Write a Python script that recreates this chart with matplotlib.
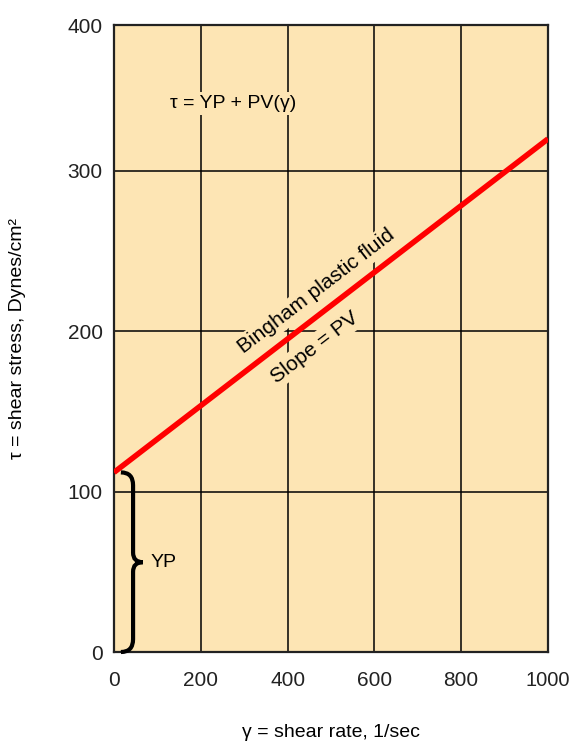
import numpy as np
import matplotlib
matplotlib.use("Agg")
import matplotlib.pyplot as plt
from matplotlib.path import Path
from matplotlib.patches import PathPatch

plt.rcParams['font.family'] = ['Liberation Sans', 'DejaVu Sans']

# data
shear_rate = [0, 1000]
yp = 112
pv = 0.208
shear_stress = [yp + pv * g for g in shear_rate]
x_ticks = [0, 200, 400, 600, 800, 1000]
y_ticks = [0, 100, 200, 300]
y_top = 391
bg = "#fde5b4"

fig = plt.figure(figsize=(5.71, 7.49), dpi=100)
ax = fig.add_axes([0.1996, 0.1295, 0.7601, 0.8371])
ax.set_facecolor(bg)
ax.set_xlim(0, 1000); ax.set_ylim(0, y_top)
ax.set_xticks(x_ticks); ax.set_yticks(y_ticks + [y_top])
ax.set_xticklabels([str(t) for t in x_ticks]); ax.set_yticklabels([str(t) for t in y_ticks] + ["400"])
ax.tick_params(length=0, labelsize=15, colors="#222222")
ax.tick_params(axis="x", pad=14); ax.tick_params(axis="y", pad=8)
ax.get_xticklabels()[-1].set_fontsize(14.5)
for g in x_ticks[1:-1]:
    ax.axvline(g, color="black", lw=1.1, zorder=1)
for g in y_ticks[1:]:
    ax.axhline(g, color="black", lw=1.1, zorder=1)
for s in ax.spines.values():
    s.set_linewidth(1.6); s.set_color("#222222")

ax.plot(shear_rate, shear_stress, color="#ff0000", lw=4, zorder=3, solid_capstyle="butt")

# curly brace for YP
x0, w = 44, 28
ymid = yp / 2
verts = [(x0 - w, 0), (x0, 0), (x0, 8), (x0, ymid - 6), (x0, ymid), (x0 + w * 0.8, ymid),
         (x0, ymid), (x0, ymid + 6), (x0, yp - 8), (x0, yp), (x0 - w, yp)]
codes = [Path.MOVETO, Path.CURVE3, Path.CURVE3, Path.LINETO, Path.CURVE3, Path.CURVE3,
         Path.CURVE3, Path.CURVE3, Path.LINETO, Path.CURVE3, Path.CURVE3]
ax.add_patch(PathPatch(Path(verts, codes), fc="none", ec="black", lw=3, zorder=4, clip_on=False))
ax.text(85, ymid, "YP", fontsize=14, va="center", ha="left")

box = dict(facecolor=bg, edgecolor="none", pad=2)
ax.text(130, 342, "τ = YP + PV(γ)", fontsize=14, va="center", ha="left", bbox=box, zorder=2)
ax.text(467, 225, "Bingham plastic fluid", fontsize=15, rotation=37.5, rotation_mode="anchor",
        ha="center", va="center", bbox=box, zorder=2)
ax.text(462, 190, "Slope = PV", fontsize=15, rotation=37.5, rotation_mode="anchor",
        ha="center", va="center", bbox=box, zorder=2)

ax.set_xlabel("γ = shear rate, 1/sec", fontsize=14, labelpad=24)
ax.set_ylabel("τ = shear stress, Dynes/cm²", fontsize=14, labelpad=30)

fig.savefig("out.png", dpi=100)
